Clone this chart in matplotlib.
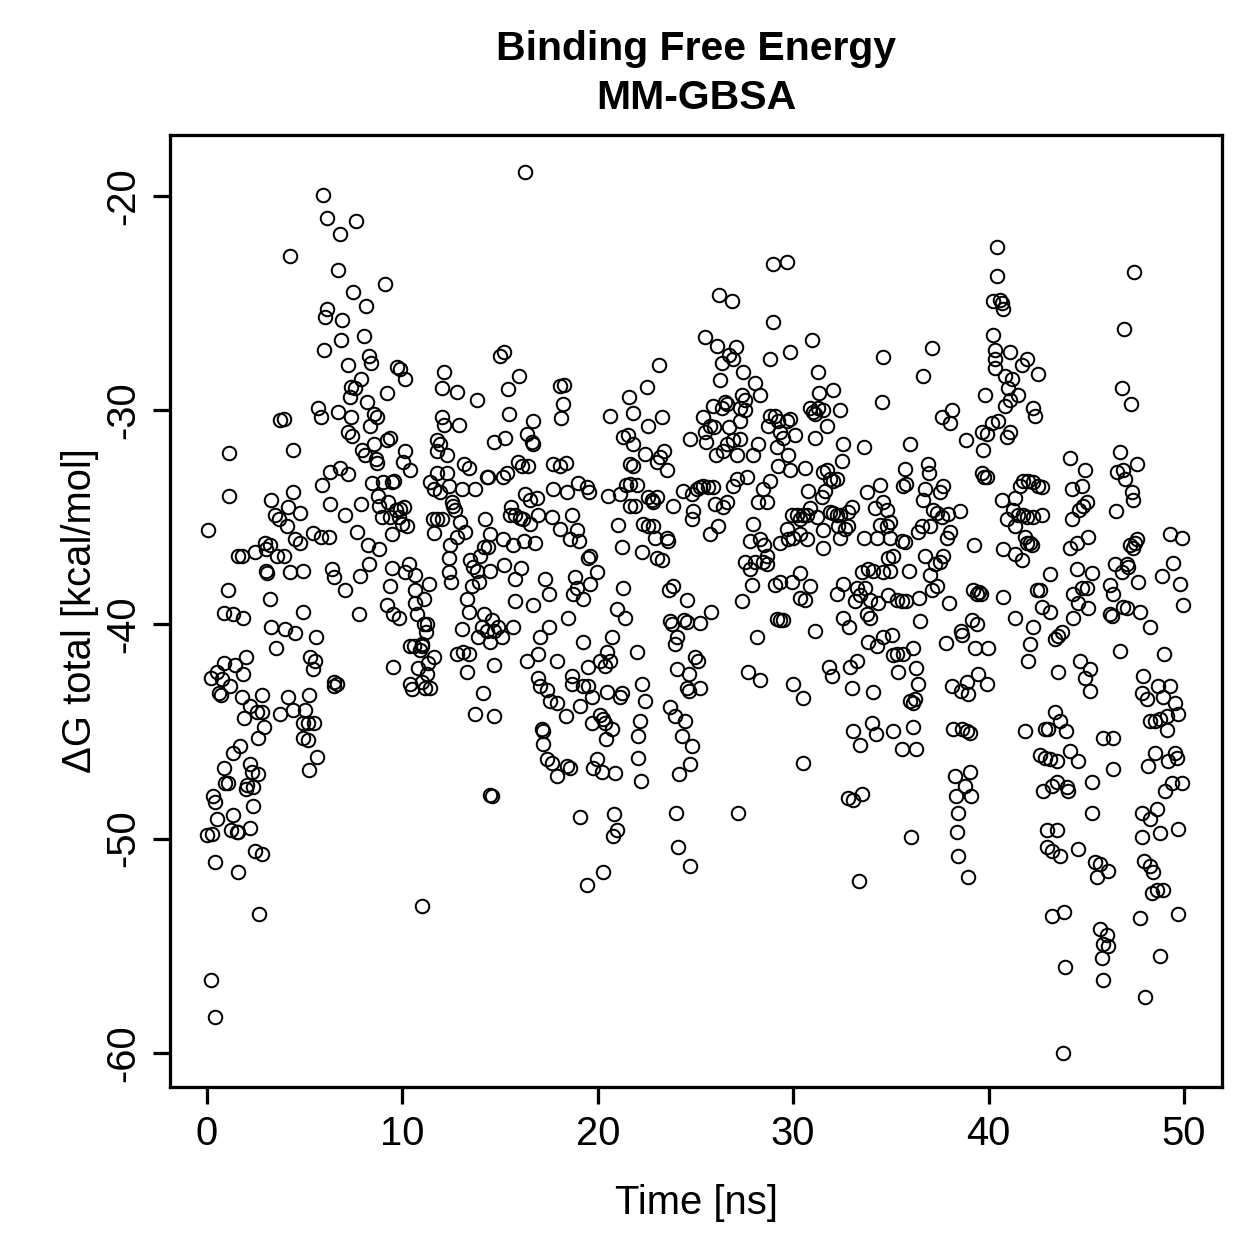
import matplotlib
matplotlib.use("Agg")
import matplotlib.pyplot as plt

# MM-GBSA binding free energy per frame
# (time in ns, dG total in kcal/mol), grouped by 5 ns windows

t_00 = [4.22, 3.74, 3.91, 1.14, 4.42, 1.14, 0.07, 3.28, 3.48, 3.70,
        4.16, 4.42, 4.08, 2.97, 3.22, 3.02, 1.60, 1.81, 2.46, 3.60,
        3.91, 3.02, 3.05, 4.25, 1.06, 3.22, 0.84, 1.35, 1.83, 3.28,
        3.99, 3.53, 4.50, 0.84, 1.43, 1.98, 0.19, 0.53, 0.75, 0.63,
        0.70, 1.18, 1.78, 1.86, 2.80, 2.20, 2.54, 1.90, 2.80, 2.92,
        3.74, 4.16, 4.42, 2.63, 1.35, 1.69, 0.84, 2.20, 2.29, 2.63,
        2.37, 0.92, 1.09, 1.99, 2.06, 0.32, 0.41, 2.37, 0.50, 1.31,
        1.60, 1.21, 2.20, 0.00, 0.24, 1.52, 2.46, 2.80, 0.41, 1.57,
        2.68, 0.19, 0.38]
g_00 = [-22.8, -30.47, -30.39, -32.0, -31.85, -34.0, -35.6, -34.2, -34.9, -35.1,
        -34.5, -33.8, -35.4, -36.2, -36.3, -36.5, -36.8, -36.8, -36.6, -36.8,
        -36.8, -37.5, -37.6, -37.55, -38.4, -38.8, -39.45, -39.5, -39.7, -40.1,
        -40.2, -41.1, -40.4, -41.8, -41.9, -41.5, -42.5, -42.2, -42.55, -43.2,
        -43.3, -42.9, -43.4, -42.3, -43.3, -43.8, -44.1, -44.35, -44.1, -44.8,
        -44.2, -43.4, -44.0, -45.3, -46.0, -45.7, -46.7, -46.5, -46.9, -47.0,
        -47.6, -47.4, -47.4, -47.7, -47.5, -48.0, -48.3, -48.5, -49.1, -48.9,
        -49.7, -49.6, -49.5, -49.85, -49.8, -49.7, -50.6, -50.7, -51.1, -51.55,
        -53.5, -56.6, -58.35]

t_05 = [5.92, 6.13, 6.81, 7.61, 6.72, 7.46, 8.14, 9.08, 6.16, 6.04,
        6.90, 5.96, 6.84, 8.04, 7.19, 8.31, 8.38, 7.87, 7.37, 7.58,
        7.32, 9.20, 9.71, 5.70, 5.82, 6.72, 8.17, 8.52, 8.72, 7.37,
        7.19, 7.41, 8.35, 7.92, 8.09, 8.65, 8.72, 8.52, 9.20, 9.37,
        6.30, 6.81, 7.19, 5.87, 8.43, 8.99, 9.46, 6.30, 7.07, 7.87,
        8.77, 8.82, 9.28, 8.94, 9.37, 9.68, 4.76, 5.41, 5.82, 6.26,
        4.76, 4.50, 7.66, 8.21, 8.82, 9.46, 4.90, 6.38, 6.50, 7.07,
        7.83, 8.31, 9.37, 9.46, 4.93, 7.75, 9.23, 9.54, 5.58, 5.27,
        5.53, 5.41, 6.47, 6.64, 6.50, 9.54, 5.24, 5.02, 4.90, 5.14,
        5.48, 4.93, 5.14, 5.62, 5.19]
g_05 = [-19.94, -21.03, -21.75, -21.17, -23.45, -24.5, -25.15, -24.1, -25.26, -25.67,
        -25.81, -27.18, -26.7, -26.55, -27.9, -27.45, -27.8, -28.55, -28.9, -28.96,
        -29.4, -29.2, -28.0, -29.9, -30.3, -30.1, -29.6, -30.2, -30.3, -30.3,
        -31.0, -31.2, -30.75, -31.85, -32.1, -32.3, -32.45, -31.6, -31.4, -31.3,
        -32.9, -32.7, -33.0, -33.5, -33.4, -33.35, -33.35, -34.4, -34.9, -34.4,
        -34.0, -34.45, -34.3, -35.0, -35.0, -34.65, -34.8, -35.75, -35.9, -35.9,
        -36.2, -36.0, -35.7, -36.3, -36.5, -35.8, -37.5, -37.4, -37.8, -38.4,
        -37.75, -37.2, -38.2, -37.35, -39.4, -39.5, -39.1, -39.5, -40.6, -41.5,
        -41.7, -42.1, -42.7, -42.8, -42.9, -42.0, -43.3, -44.0, -44.6, -44.6,
        -44.6, -45.3, -45.4, -46.2, -46.8]

t_10 = [9.88, 10.14, 12.13, 12.02, 12.78, 13.81, 12.02, 12.10, 12.90, 11.76,
        11.90, 11.76, 12.27, 10.14, 10.05, 10.36, 13.16, 13.43, 14.32, 14.40,
        14.66, 9.57, 11.42, 11.59, 11.93, 12.36, 11.76, 12.27, 13.04, 13.72,
        12.53, 12.61, 12.70, 9.88, 10.09, 9.80, 9.97, 10.22, 11.55, 11.76,
        12.02, 11.59, 12.95, 13.21, 12.78, 12.44, 14.23, 14.49, 14.15, 14.40,
        13.99, 14.49, 13.47, 13.60, 13.84, 13.55, 13.94, 12.36, 12.40, 12.47,
        10.31, 10.14, 10.65, 11.38, 10.65, 11.08, 10.65, 10.74, 13.29, 13.38,
        9.80, 11.08, 11.25, 11.21, 10.99, 13.04, 14.15, 14.06, 14.32, 14.66,
        13.89, 14.46, 10.39, 10.60, 10.99, 10.90, 11.59, 11.33, 10.82, 11.25,
        12.78, 13.12, 13.38, 13.29, 14.66, 10.39, 10.48, 11.16, 11.42, 10.99,
        14.11, 13.72, 14.66, 14.49, 14.58, 10.99]
g_10 = [-28.06, -28.55, -28.2, -28.96, -29.16, -29.5, -30.3, -30.7, -30.7, -31.4,
        -31.6, -31.9, -32.1, -31.9, -32.4, -32.8, -32.5, -32.7, -33.1, -33.1,
        -31.5, -33.3, -33.35, -33.7, -33.8, -33.55, -32.95, -32.95, -33.7, -33.7,
        -34.3, -34.45, -34.65, -34.6, -34.5, -35.0, -35.3, -35.4, -35.1, -35.1,
        -35.1, -35.75, -35.2, -35.7, -35.9, -36.3, -35.1, -35.8, -36.4, -36.4,
        -36.8, -37.5, -37.0, -37.3, -37.5, -38.2, -38.0, -36.9, -37.55, -38.0,
        -37.2, -37.55, -37.7, -38.1, -38.4, -38.8, -39.0, -39.5, -38.8, -39.4,
        -39.7, -40.0, -40.0, -40.35, -40.9, -40.2, -39.5, -40.1, -40.3, -40.3,
        -40.6, -40.8, -41.0, -41.0, -41.0, -41.2, -41.5, -41.8, -42.05, -42.3,
        -41.4, -41.3, -41.4, -42.2, -41.9, -42.8, -43.0, -42.95, -42.95, -42.7,
        -43.2, -44.2, -44.3, -47.95, -48.0, -53.15]

t_15 = [16.27, 14.99, 15.20, 15.98, 15.42, 18.06, 18.27, 18.20, 18.10, 15.47,
        15.25, 16.70, 16.36, 16.61, 16.70, 15.93, 16.10, 16.44, 17.72, 18.06,
        18.37, 15.33, 15.16, 16.27, 16.53, 16.87, 17.72, 18.44, 19.00, 19.43,
        19.57, 15.54, 15.50, 15.76, 16.02, 16.19, 16.53, 16.95, 17.64, 18.06,
        18.66, 15.13, 15.67, 16.22, 16.78, 18.58, 18.92, 19.05, 19.51, 19.60,
        15.20, 16.05, 15.76, 17.30, 17.52, 18.83, 18.95, 18.75, 19.22, 19.60,
        15.76, 16.70, 18.49, 14.57, 14.91, 15.08, 15.67, 17.04, 17.52, 16.95,
        19.26, 16.36, 17.89, 19.51, 16.95, 17.04, 17.38, 17.55, 17.89, 18.66,
        18.66, 19.26, 19.51, 19.09, 19.68, 18.37, 19.68, 17.13, 17.21, 17.21,
        17.38, 17.64, 17.89, 18.40, 18.58, 19.09, 19.43]
g_15 = [-18.9, -27.45, -27.3, -28.4, -29.0, -28.85, -28.8, -29.7, -30.35, -30.2,
        -31.3, -30.5, -31.1, -31.5, -31.6, -32.4, -32.6, -32.6, -32.5, -32.6,
        -32.45, -32.95, -33.1, -33.9, -34.2, -34.1, -33.7, -33.8, -33.4, -33.6,
        -33.8, -34.5, -34.9, -34.9, -35.05, -35.1, -35.3, -34.9, -35.0, -35.55,
        -34.9, -36.0, -36.3, -36.1, -36.2, -36.0, -35.6, -36.1, -36.9, -36.8,
        -37.25, -37.35, -37.9, -37.9, -38.6, -37.8, -38.3, -38.6, -38.8, -38.1,
        -38.9, -39.1, -39.7, -39.8, -40.1, -40.6, -40.1, -40.6, -40.1, -41.4,
        -40.8, -41.7, -41.7, -42.0, -42.5, -42.9, -43.05, -43.6, -43.65, -42.4,
        -42.8, -42.9, -42.9, -43.8, -43.4, -44.3, -44.6, -44.9, -45.0, -45.6,
        -46.3, -46.45, -47.1, -46.6, -46.7, -49.0, -52.15]

t_20 = [23.15, 22.50, 21.61, 21.78, 20.62, 23.27, 22.59, 24.72, 21.31, 21.56,
        21.78, 22.42, 23.01, 23.39, 23.18, 23.52, 21.65, 21.82, 20.54, 21.14,
        21.44, 21.65, 21.99, 21.65, 21.90, 22.59, 22.76, 23.01, 22.84, 23.83,
        24.38, 24.80, 24.80, 21.05, 22.33, 22.59, 22.84, 22.93, 23.52, 23.61,
        23.01, 23.27, 21.22, 22.25, 19.94, 21.31, 23.87, 23.66, 24.55, 20.97,
        21.39, 23.70, 23.78, 24.41, 24.55, 24.04, 23.95, 20.71, 20.45, 20.11,
        20.62, 20.37, 21.99, 24.07, 24.69, 24.55, 24.69, 20.45, 21.14, 21.22,
        22.25, 22.42, 20.11, 20.25, 20.37, 20.71, 20.42, 22.16, 22.07, 23.70,
        23.95, 24.46, 24.29, 24.80, 19.94, 19.77, 20.20, 20.88, 22.07, 22.19,
        24.72, 24.18, 20.83, 20.97, 20.80, 24.00, 24.12, 20.28, 24.72]
g_20 = [-27.9, -28.9, -29.4, -30.15, -30.25, -30.3, -30.75, -31.35, -31.25, -31.15,
        -31.6, -32.05, -32.4, -31.9, -32.2, -32.8, -32.5, -32.6, -34.0, -33.9,
        -33.5, -33.45, -33.5, -34.45, -34.45, -34.05, -34.2, -34.05, -34.3, -34.45,
        -33.75, -33.9, -35.1, -35.35, -35.3, -35.4, -35.4, -35.95, -35.95, -36.1,
        -36.9, -37.0, -36.4, -36.6, -37.55, -38.3, -38.2, -38.4, -38.85, -39.3,
        -39.7, -39.85, -40.0, -39.8, -39.9, -40.6, -40.9, -40.6, -41.3, -41.7,
        -41.7, -41.95, -41.3, -42.1, -42.3, -42.95, -43.1, -43.15, -43.4, -43.2,
        -42.8, -43.6, -44.25, -44.4, -44.6, -44.9, -45.35, -44.5, -45.2, -43.85,
        -44.3, -44.5, -45.2, -45.7, -46.3, -46.7, -46.9, -46.95, -46.25, -47.3,
        -46.5, -47.0, -48.85, -49.6, -49.9, -48.8, -50.4, -51.55, -51.3]

t_25 = [28.99, 29.67, 26.22, 26.85, 28.95, 25.49, 26.09, 27.07, 26.73, 26.94,
        26.34, 28.82, 29.84, 26.26, 27.45, 28.05, 28.30, 27.37, 27.54, 27.28,
        26.51, 26.63, 26.34, 25.91, 28.82, 29.07, 29.24, 29.67, 29.84, 25.40,
        25.74, 25.95, 25.49, 26.73, 27.28, 27.54, 25.54, 26.60, 26.94, 27.28,
        28.73, 29.33, 29.50, 26.05, 26.43, 27.11, 27.96, 28.22, 29.16, 29.75,
        29.84, 29.24, 25.06, 25.23, 25.40, 25.66, 25.91, 26.94, 27.11, 27.62,
        26.60, 26.00, 26.43, 24.89, 28.47, 28.82, 28.22, 28.68, 29.93, 25.74,
        26.17, 27.96, 27.79, 28.30, 28.51, 28.68, 28.44, 28.68, 27.54, 27.79,
        28.05, 29.33, 29.75, 29.67, 27.88, 29.07, 29.33, 29.93, 27.37, 25.78,
        25.23, 29.19, 29.33, 29.50, 28.13, 24.98, 25.15, 27.71, 28.30, 25.23,
        30.01, 27.20]
g_25 = [-23.15, -23.1, -24.6, -24.9, -25.9, -26.6, -27.0, -27.05, -27.4, -27.6,
        -27.8, -27.6, -27.3, -28.6, -28.2, -28.75, -29.3, -29.3, -29.5, -29.9,
        -29.6, -29.7, -29.9, -29.8, -30.25, -30.25, -30.5, -30.5, -30.4, -30.3,
        -30.75, -30.8, -31.0, -30.8, -30.5, -30.0, -31.5, -31.6, -31.4, -31.35,
        -30.75, -31.0, -31.3, -32.1, -31.9, -32.1, -32.1, -31.6, -31.7, -32.1,
        -32.8, -32.6, -33.7, -33.6, -33.55, -33.6, -33.6, -33.55, -33.2, -33.1,
        -34.3, -34.4, -34.5, -34.7, -33.7, -33.3, -34.3, -34.3, -34.9, -35.8,
        -35.4, -35.3, -36.1, -36.0, -36.3, -36.8, -37.1, -37.2, -37.1, -37.4,
        -37.1, -36.2, -36.0, -35.55, -38.15, -38.15, -38.0, -38.0, -38.9, -39.4,
        -39.95, -39.75, -39.8, -39.8, -40.6, -41.5, -41.7, -42.2, -42.6, -42.95,
        -42.8, -48.8]

t_30 = [30.95, 34.62, 31.29, 31.34, 32.06, 32.40, 31.29, 31.03, 30.86, 31.12,
        31.55, 34.53, 30.10, 31.72, 31.12, 32.57, 32.49, 33.60, 30.61, 31.55,
        31.72, 31.89, 32.06, 32.23, 30.78, 31.46, 31.63, 33.76, 34.45, 33.00,
        32.83, 32.40, 31.89, 32.06, 32.23, 30.86, 30.69, 30.52, 30.18, 30.35,
        31.21, 34.19, 34.62, 34.79, 34.45, 34.96, 34.79, 32.31, 32.66, 32.83,
        31.55, 32.40, 30.35, 30.69, 30.01, 31.51, 33.60, 34.28, 34.96, 34.87,
        35.13, 33.51, 33.85, 34.11, 34.62, 34.96, 30.35, 30.86, 30.61, 30.35,
        32.57, 32.23, 33.26, 33.43, 33.17, 33.68, 33.94, 34.36, 34.87, 32.54,
        32.88, 33.77, 33.94, 31.12, 33.85, 34.28, 34.62, 35.05, 35.13, 31.85,
        31.97, 32.91, 33.26, 30.49, 33.00, 34.11, 33.08, 33.43, 34.02, 34.24,
        35.13, 30.52, 32.83, 33.08, 33.51, 33.39]
g_30 = [-26.7, -27.5, -28.2, -29.2, -29.05, -30.0, -29.9, -30.1, -29.9, -30.2,
        -30.0, -29.6, -31.15, -30.75, -31.3, -31.6, -32.35, -31.7, -32.7, -32.9,
        -32.8, -33.2, -33.3, -33.2, -33.75, -34.05, -33.75, -33.8, -33.5, -34.5,
        -34.75, -34.9, -34.75, -34.8, -34.9, -34.55, -34.9, -34.9, -34.9, -35.1,
        -35.0, -34.55, -34.3, -34.65, -35.35, -35.2, -35.4, -35.4, -35.55, -35.4,
        -35.6, -35.95, -35.8, -36.0, -35.95, -36.45, -35.95, -35.95, -35.95, -36.9,
        -36.8, -37.55, -37.4, -37.5, -37.55, -37.5, -37.6, -38.2, -38.85, -38.75,
        -38.1, -38.6, -38.3, -38.65, -38.9, -38.3, -38.85, -39.0, -38.65, -39.7,
        -40.1, -39.5, -39.7, -40.3, -40.8, -41.0, -40.6, -40.5, -41.45, -42.0,
        -42.4, -42.0, -41.7, -43.45, -42.95, -43.15, -45.0, -45.65, -44.6, -45.1,
        -45.0, -46.45, -48.1, -48.2, -47.9, -52.0]

t_35 = [37.08, 36.62, 37.60, 38.11, 38.02, 38.84, 39.81, 39.64, 39.73, 39.90,
        35.97, 35.72, 35.63, 35.77, 36.91, 36.96, 36.74, 36.66, 37.51, 37.68,
        37.17, 37.34, 37.60, 37.94, 38.02, 37.85, 38.53, 39.69, 39.76, 39.90,
        36.57, 36.40, 37.00, 35.55, 35.72, 36.74, 37.68, 37.51, 37.25, 37.00,
        37.34, 37.08, 39.25, 35.94, 35.33, 35.55, 35.77, 36.45, 37.99, 39.18,
        39.42, 39.52, 39.59, 36.49, 35.33, 35.63, 36.14, 37.82, 38.57, 38.62,
        39.13, 39.42, 39.30, 39.98, 35.38, 36.28, 36.40, 38.11, 38.57, 38.91,
        38.96, 39.47, 39.90, 35.97, 36.14, 36.23, 36.14, 35.55, 36.31, 38.19,
        38.62, 38.91, 39.05, 38.28, 39.05, 38.79, 38.33, 39.08, 38.45, 36.01,
        38.36, 38.45, 38.96]
g_35 = [-27.1, -28.4, -30.3, -30.0, -30.6, -31.4, -29.3, -31.0, -31.85, -31.1,
        -31.6, -32.75, -33.55, -33.45, -32.5, -32.95, -33.7, -34.2, -33.8, -33.55,
        -34.65, -34.8, -35.0, -34.85, -35.7, -35.95, -34.7, -32.95, -33.1, -33.1,
        -35.4, -35.7, -35.4, -36.1, -36.15, -36.8, -36.8, -37.1, -37.2, -37.7,
        -38.2, -38.4, -36.3, -37.5, -38.85, -38.9, -38.9, -38.75, -39.0, -38.4,
        -38.6, -38.5, -38.6, -39.85, -41.4, -41.4, -41.1, -40.85, -40.3, -40.5,
        -39.8, -40.0, -41.1, -41.1, -42.2, -42.05, -42.8, -42.9, -43.1, -42.7,
        -43.25, -42.3, -42.8, -43.6, -43.65, -43.5, -44.8, -45.8, -45.8, -44.9,
        -44.9, -45.0, -45.05, -47.1, -46.9, -47.55, -48.0, -48.0, -48.8, -49.95,
        -49.7, -50.8, -51.8]

t_40 = [40.45, 40.45, 40.58, 40.75, 40.67, 40.24, 40.24, 40.33, 40.33, 41.09,
        41.69, 41.95, 42.54, 40.33, 40.84, 41.18, 41.01, 41.52, 41.09, 40.84,
        42.29, 42.37, 40.50, 40.20, 40.92, 41.09, 44.17, 44.93, 44.76, 44.25,
        41.78, 41.61, 42.03, 42.29, 42.54, 42.72, 41.35, 40.67, 45.02, 44.85,
        44.64, 44.25, 41.26, 41.52, 41.78, 41.95, 42.29, 42.72, 40.92, 41.35,
        45.10, 44.51, 44.17, 41.86, 41.95, 42.20, 42.12, 40.75, 41.35, 41.69,
        43.14, 42.63, 42.72, 43.14, 42.46, 44.51, 45.27, 45.02, 44.76, 44.30,
        44.59, 45.10, 44.34, 40.75, 41.35, 42.29, 42.12, 42.03, 43.57, 43.74,
        43.40, 44.68, 44.93, 45.19, 45.19, 43.57, 43.40, 43.65, 43.99, 41.86,
        42.88, 43.05, 44.17, 44.59, 42.63, 42.88, 43.14, 43.48, 45.27, 42.80,
        43.23, 43.48, 44.03, 44.08, 45.27, 42.97, 43.48, 42.97, 43.23, 43.65,
        44.59, 43.23, 43.86, 43.91, 43.82]
g_40 = [-22.4, -23.75, -24.85, -25.26, -25.0, -24.9, -26.5, -27.2, -27.6, -27.3,
        -27.9, -27.6, -28.3, -28.05, -28.4, -28.55, -28.95, -29.3, -29.5, -29.8,
        -29.9, -30.25, -30.5, -30.6, -31.25, -31.0, -32.25, -32.8, -33.55, -33.7,
        -33.3, -33.55, -33.3, -33.35, -33.55, -33.6, -34.1, -34.2, -34.3, -34.45,
        -34.65, -35.1, -34.65, -34.9, -34.9, -35.0, -35.0, -34.9, -35.1, -35.4,
        -35.9, -36.2, -36.45, -35.9, -36.2, -36.3, -36.2, -36.5, -36.7, -37.0,
        -37.65, -38.4, -39.2, -39.4, -38.4, -37.4, -37.6, -38.3, -38.3, -38.6,
        -39.0, -39.25, -39.7, -38.7, -39.7, -40.1, -40.9, -41.7, -40.55, -40.35,
        -40.7, -41.7, -42.5, -43.1, -42.1, -42.2, -44.1, -44.5, -45.0, -45.0,
        -44.9, -44.9, -45.9, -46.4, -46.1, -46.25, -46.3, -46.4, -47.35, -47.8,
        -47.55, -47.35, -47.6, -47.8, -48.8, -49.6, -49.6, -50.4, -50.6, -50.8,
        -50.5, -53.6, -53.45, -56.0, -60.0]

t_45 = [47.46, 46.93, 46.81, 47.27, 46.73, 46.56, 46.90, 46.98, 47.58, 47.32,
        47.41, 46.52, 47.24, 47.37, 47.49, 47.58, 49.28, 49.88, 49.42, 49.80,
        49.97, 48.86, 46.47, 46.81, 47.07, 47.15, 47.66, 48.26, 46.21, 46.38,
        46.21, 46.30, 46.90, 47.07, 47.75, 46.73, 48.99, 47.92, 47.83, 48.09,
        48.69, 48.94, 49.28, 49.54, 49.71, 48.77, 48.26, 48.52, 49.15, 49.11,
        45.87, 46.38, 46.38, 48.52, 48.18, 49.20, 49.54, 49.63, 49.03, 49.37,
        49.88, 47.83, 48.26, 48.60, 47.83, 48.77, 49.71, 45.45, 45.70, 45.53,
        46.13, 47.98, 48.26, 48.43, 48.35, 48.60, 48.94, 47.75, 49.71, 45.70,
        46.04, 45.87, 46.13, 45.79, 48.77, 45.87, 48.00]
g_45 = [-23.56, -26.2, -28.97, -29.7, -31.95, -32.9, -32.8, -33.2, -32.5, -33.8,
        -34.2, -34.7, -36.3, -36.45, -36.2, -36.0, -35.8, -35.95, -37.15, -38.1,
        -39.1, -37.75, -37.2, -37.55, -37.2, -37.3, -38.0, -40.1, -38.15, -38.6,
        -39.5, -39.6, -39.2, -39.25, -39.4, -41.25, -41.4, -42.4, -43.2, -43.5,
        -42.9, -43.4, -42.9, -43.65, -44.2, -44.4, -44.5, -44.5, -44.3, -44.95,
        -45.3, -45.3, -46.75, -46.0, -46.6, -46.4, -46.0, -46.25, -47.8, -47.4,
        -47.4, -48.8, -49.1, -48.6, -49.95, -49.75, -49.55, -51.1, -51.2, -51.8,
        -51.5, -51.05, -51.3, -51.55, -52.55, -52.4, -52.4, -53.7, -53.5, -54.2,
        -54.5, -54.9, -55.0, -55.6, -55.5, -56.6, -57.4]

time_ns = t_00 + t_05 + t_10 + t_15 + t_20 + t_25 + t_30 + t_35 + t_40 + t_45
dg_total = g_00 + g_05 + g_10 + g_15 + g_20 + g_25 + g_30 + g_35 + g_40 + g_45

x_ticks = [0, 10, 20, 30, 40, 50]
y_ticks = [-60, -50, -40, -30, -20]

plt.rcParams["font.family"] = ["Liberation Sans", "DejaVu Sans"]
plt.rcParams["axes.unicode_minus"] = False

W = 1259
fig = plt.figure(figsize=(W / 180, W / 180), dpi=180)
ax = fig.add_axes([170 / W, 1 - 1087 / W, (1222 - 170) / W, (1087 - 135) / W])

ax.plot(time_ns, dg_total, linestyle="none", marker="o", ms=5.4,
        mfc="none", mec="black", mew=0.8)

ax.set_xlim(-1.9, 51.95)
ax.set_ylim(-61.6, -17.15)
ax.set_xticks(x_ticks)
ax.set_yticks(y_ticks)
ax.set_xticklabels([str(v) for v in x_ticks])
ax.set_yticklabels([str(v) for v in y_ticks], rotation=90, va="center")
ax.tick_params(length=6.8, width=1.3, labelsize=16, pad=4.5)
for s in ax.spines.values():
    s.set_linewidth(1.3)

cx = (170 + 1222) / 2 / W
fig.text(cx, 1 - 60 / W, "Binding Free Energy", ha="center", va="baseline",
         fontsize=16.4, fontweight="bold")
fig.text(cx, 1 - 109 / W, "MM-GBSA", ha="center", va="baseline",
         fontsize=16.4, fontweight="bold")
fig.text(cx, 1 - 1214 / W, "Time [ns]", ha="center", va="baseline", fontsize=16)
fig.text(80 / W, 1 - 611 / W, "ΔG total [kcal/mol]", ha="center", va="center",
         rotation=90, fontsize=16)

fig.savefig("out.png", dpi=180)
